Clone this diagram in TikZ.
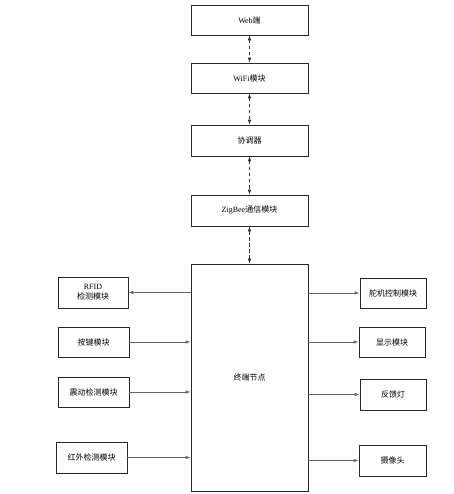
\documentclass[tikz,border=0pt]{standalone}
\usepackage{fontspec}
\setmainfont{Liberation Serif}
\newfontfamily\cjk{Noto Sans CJK SC}
\usetikzlibrary{arrows.meta}
\begin{document}
\begin{tikzpicture}[x=1pt,y=-1pt,
  box/.style={draw=black!85,line width=0.7pt,fill=white,inner sep=0pt,align=center,
    font=\fontsize{8}{11}\selectfont},
  conn/.style={draw=black!60,line width=0.9pt,-{Latex[length=5pt,width=3.6pt]}},
  dconn/.style={draw=black!80,line width=0.7pt,dashed,dash pattern=on 3.5pt off 2.5pt,
    {Latex[length=5pt,width=3.6pt]}-{Latex[length=5pt,width=3.6pt]}}]
\useasboundingbox (0,0) rectangle (453,494);
% top chain
\node[box,minimum width=117pt,minimum height=30pt] (web) at (249.5,20) {Web{\cjk 端}};
\node[box,minimum width=117pt,minimum height=30pt] (wifi) at (249.5,78) {WiFi{\cjk 模块}};
\node[box,minimum width=117pt,minimum height=31pt] (coord) at (249.5,140.5) {{\cjk 协调器}};
\node[box,minimum width=117pt,minimum height=31pt] (zig) at (249.5,210.5) {ZigBee{\cjk 通信模块}};
\node[box,minimum width=117pt,minimum height=227pt] (term) at (249.5,377.5) {{\cjk 终端节点}};
% left modules
\node[box,minimum width=70pt,minimum height=31pt] (rfid) at (93,292.5) {RFID\\[-1pt]{\cjk 检测模块}};
\node[box,minimum width=71pt,minimum height=30pt] (key) at (93.5,342) {{\cjk 按键模块}};
\node[box,minimum width=71pt,minimum height=30pt] (vib) at (93.5,392) {{\cjk 震动检测模块}};
\node[box,minimum width=71pt,minimum height=31pt] (ir) at (91.5,457.5) {{\cjk 红外检测模块}};
% right modules
\node[box,minimum width=66pt,minimum height=30pt] (servo) at (393,293) {{\cjk 舵机控制模块}};
\node[box,minimum width=66pt,minimum height=30pt] (disp) at (392,342) {{\cjk 显示模块}};
\node[box,minimum width=66pt,minimum height=31pt] (fb) at (393,394.5) {{\cjk 反馈灯}};
\node[box,minimum width=67pt,minimum height=31pt] (cam) at (392.5,460.5) {{\cjk 摄像头}};
% dashed bidirectional links
\draw[dconn] (web.south) -- (wifi.north);
\draw[dconn] (wifi.south) -- (coord.north);
\draw[dconn] (coord.south) -- (zig.north);
\draw[dconn] (zig.south) -- (term.north);
% left connectors
\draw[conn] (rfid.east -| term.west) -- (rfid.east);
\draw[conn] (key.east) -- (key.east -| term.west);
\draw[conn] (vib.east) -- (vib.east -| term.west);
\draw[conn] (ir.east) -- (ir.east -| term.west);
% right connectors
\draw[conn] (servo.west -| term.east) -- (servo.west);
\draw[conn] (disp.west -| term.east) -- (disp.west);
\draw[conn] (fb.west -| term.east) -- (fb.west);
\draw[conn] (cam.west -| term.east) -- (cam.west);
\end{tikzpicture}
\end{document}
